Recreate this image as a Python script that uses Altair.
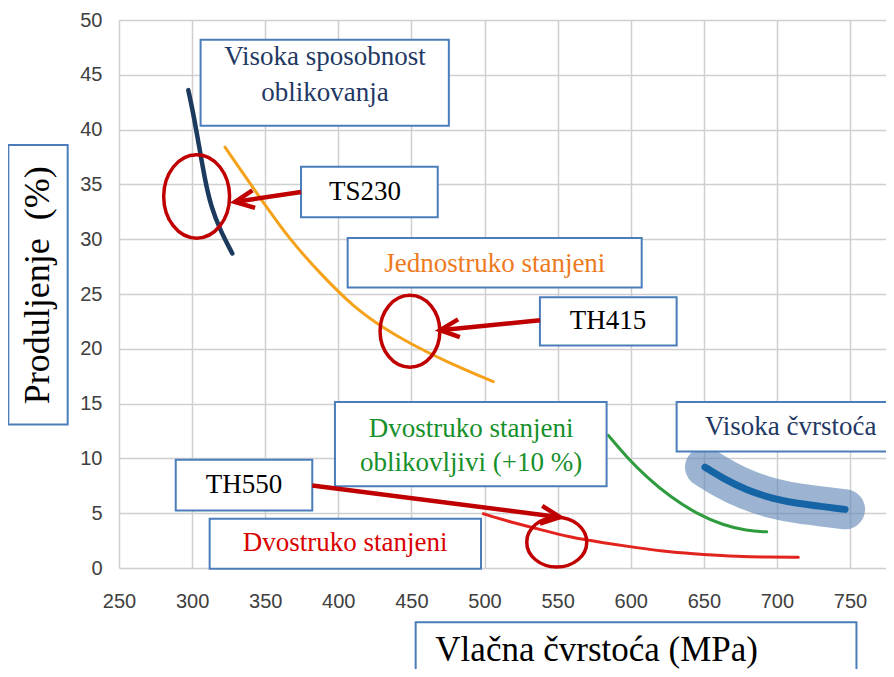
import math
import altair as alt
import pandas as pd

# ---------------- data ----------------
ts230_x = [297.4, 300.8, 304.9, 308.8, 313.0, 319.3, 327.5]
ts230_y = [43.6, 41.5, 38.4, 35.4, 32.95, 30.8, 28.7]

single_x = [322.5, 344.2, 367.0, 387.5, 410.3, 433.1, 449.0, 471.8, 506.0]
single_y = [38.4, 34.2, 29.9, 26.9, 23.8, 21.7, 20.5, 18.95, 17.0]

dform_x = [584.7, 597.3, 610.9, 626.9, 645.1, 663.3, 679.3, 693.0]
dform_y = [12.1, 10.1, 8.3, 6.5, 4.95, 3.9, 3.4, 3.3]

double_x = [499.2, 517.5, 535.7, 558.5, 581.3, 604.1, 626.9, 649.7, 672.5, 695.3, 714.6]
double_y = [4.95, 4.2, 3.6, 2.8, 2.3, 1.85, 1.45, 1.23, 1.05, 0.99, 0.99]

high_x = [650.8, 663.3, 679.3, 697.5, 715.8, 731.7, 746.6]
high_y = [9.2, 8.15, 7.1, 6.3, 5.85, 5.6, 5.35]

x_ticks = [250, 300, 350, 400, 450, 500, 550, 600, 650, 700, 750]
y_ticks = [0, 5, 10, 15, 20, 25, 30, 35, 40, 45, 50]

# annotation texts
box_texts = ["Visoka sposobnost", "oblikovanja", "TS230", "Jednostruko stanjeni", "TH415",
             "Dvostruko stanjeni", "oblikovljivi (+10 %)", "Visoka čvrstoća", "TH550",
             "Dvostruko stanjeni"]
y_title = "Produljenje \u00a0(%)"
x_title = "Vlačna čvrstoća (MPa)"

# ---------------- layout ----------------
W, H = 767, 548
PAD_L, PAD_T = 111, 12
X_DOM = [250, 774.6]
Y_DOM = [0, 50]
PX_X = W / (X_DOM[1] - X_DOM[0])
PX_Y = H / (Y_DOM[1] - Y_DOM[0])

SERIF = "Liberation Serif"
BOX_STROKE = "#4A7DBA"
ARROW = "#C00000"

xs = alt.Scale(domain=X_DOM, nice=False, zero=False)
ys = alt.Scale(domain=Y_DOM, nice=False, zero=False)
ax_x = alt.Axis(values=x_ticks, title=None, grid=True, gridColor="#CFCFCF", gridWidth=1.5,
                domain=False, ticks=False, labelFontSize=20, labelColor="#404040",
                labelFont="Liberation Sans", labelPadding=23, labelFlush=False,
                labelOverlap=False)
ax_y = alt.Axis(values=y_ticks, title=None, grid=True, gridColor="#CFCFCF", gridWidth=1.5,
                domain=False, ticks=False, labelFontSize=20, labelColor="#404040",
                labelFont="Liberation Sans", labelPadding=17, labelOverlap=False)


def X(f="x"):
    return alt.X(f"{f}:Q", scale=xs, axis=ax_x)


def Y(f="y"):
    return alt.Y(f"{f}:Q", scale=ys, axis=ax_y)


def X2(f="x2"):
    return alt.X2(f"{f}:Q")


def Y2(f="y2"):
    return alt.Y2(f"{f}:Q")


def series(xv, yv):
    return pd.DataFrame({"x": xv, "y": yv})


def curve(xv, yv, color, width, **kw):
    return alt.Chart(series(xv, yv)).mark_line(
        color=color, strokeWidth=width, interpolate="basis", strokeCap="round", **kw
    ).encode(x=X(), y=Y(), order="x:Q")


# ---------------- curves ----------------
blob = curve(high_x, high_y, "#5F86B5", 40, opacity=0.62, strokeJoin="round")
c_ts = curve(ts230_x, ts230_y, "#1B3A5E", 4.5)
c_single = curve(single_x, single_y, "#F5A21A", 3)
c_dform = curve(dform_x, dform_y, "#2E9B3E", 3)
c_double = curve(double_x, double_y, "#E3231E", 3)
c_high = curve(high_x, high_y, "#1565A6", 7)

# ---------------- boxes ----------------
boxes = pd.DataFrame({
    "x":  [305.8, 374.5, 406.4, 537.9, 397.7, 631.4, 288.8, 312.0, 174.3, 452.9],
    "x2": [475.6, 468.0, 607.5, 631.4, 583.5, 820.0, 382.2, 497.6, 214.9, 754.4],
    "y":  [48.2, 36.6, 30.1, 24.7, 15.14, 15.14, 9.88, 4.49, 38.6, -4.95],
    "y2": [40.35, 32.0, 25.6, 20.3, 7.47, 10.64, 5.25, -0.07, 13.1, -14.0],
})
box_layer = alt.Chart(boxes).mark_rect(fill="white", stroke=BOX_STROKE, strokeWidth=2).encode(
    x=X(), x2=X2(), y=Y(), y2=Y2())

# ---------------- texts ----------------
texts = pd.DataFrame({
    "text": box_texts,
    "x": [390.9, 390.9, 418.3, 507.0, 584.5, 490.8, 490.8, 709.4, 335.5, 404.6],
    "y": [46.6, 43.3, 34.3, 27.7, 22.5, 12.7, 9.55, 12.86, 7.53, 2.24],
    "color": ["#1F3864", "#1F3864", "#000000", "#EE7A1E", "#000000", "#16902A", "#16902A",
              "#1F3864", "#000000", "#D90000"],
})
text_layer = alt.Chart(texts).mark_text(font=SERIF, fontSize=27, baseline="middle",
                                        align="center").encode(
    x=X(), y=Y(), text="text:N", color=alt.Color("color:N", scale=None))

ytitle = alt.Chart(pd.DataFrame({"text": [y_title], "x": [194.6], "y": [25.8]})).mark_text(
    font=SERIF, fontSize=36, angle=270, baseline="middle", align="center", color="black"
).encode(x=X(), y=Y(), text="text:N")
xtitle = alt.Chart(pd.DataFrame({"text": [x_title], "x": [576.7], "y": [-7.45]})).mark_text(
    font=SERIF, fontSize=35, baseline="middle", align="center", color="black"
).encode(x=X(), y=Y(), text="text:N")

# ---------------- arrows ----------------
arrows = pd.DataFrame({
    "x": [374.5, 538.0, 382.2],
    "y": [34.3, 22.6, 7.53],
    "x2": [329.3, 469.6, 551.6],
    "y2": [33.4, 21.7, 4.64],
})
arrows["angle"] = [
    math.degrees(math.atan2(-(r.y2 - r.y) * PX_Y, (r.x2 - r.x) * PX_X)) % 360
    for r in arrows.itertuples()
]
arrow_lines = alt.Chart(arrows).mark_rule(color=ARROW, strokeWidth=4.5).encode(
    x=X(), y=Y(), x2=X2(), y2=Y2())
CHEVRON = "M-1,-0.47L0,0L-1,0.47"
arrow_heads = alt.Chart(arrows).mark_point(
    shape=CHEVRON, filled=False, size=1444, strokeWidth=4.5, color=ARROW, opacity=1,
    strokeJoin="miter"
).encode(x=X("x2"), y=Y("y2"), angle=alt.Angle("angle:Q", scale=None))


# ---------------- ellipses ----------------
def ellipse_path(rx, ry):
    return (f"M{-rx},0A{rx},{ry} 0 1,0 {rx},0A{rx},{ry} 0 1,0 {-rx},0Z")


ell_x = [303.1, 449.0, 549.4]
ell_y = [33.9, 21.6, 2.36]
ell_shape = [(0.79, 1.0, 6956), (0.83, 1.0, 5184), (1.0, 0.83, 3600)]
ellipses = [
    alt.Chart(pd.DataFrame({"x": [ex], "y": [ey]})).mark_point(
        shape=ellipse_path(rx, ry), filled=False, size=sz, strokeWidth=3.5, color=ARROW,
        opacity=1
    ).encode(x=X(), y=Y())
    for ex, ey, (rx, ry, sz) in zip(ell_x, ell_y, ell_shape)
]

chart = alt.layer(
    blob, c_ts, c_single, c_dform, c_double, c_high,
    box_layer, text_layer, ytitle, xtitle,
    arrow_lines, arrow_heads, *ellipses
).properties(
    width=W, height=H,
    autosize=alt.AutoSizeParams(type="none"),
    padding={"left": PAD_L, "top": PAD_T, "right": 0, "bottom": 101},
).configure_view(stroke=None)

chart.save("out.html", embed_options={"renderer": "svg", "actions": False})
